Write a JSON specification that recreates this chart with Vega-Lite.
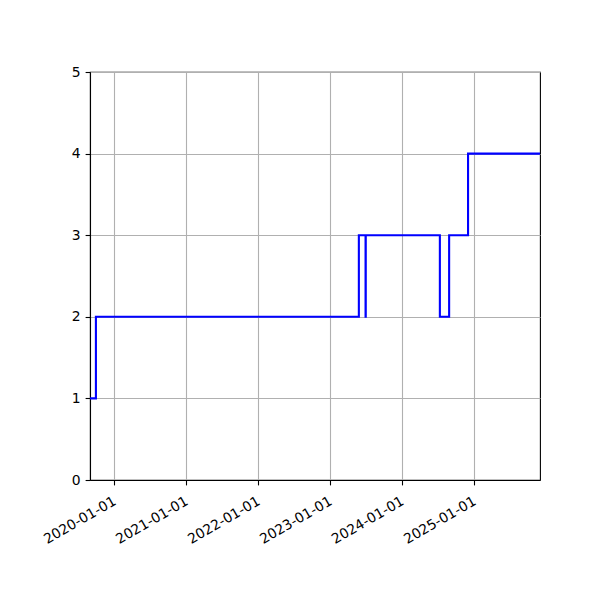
{
  "$schema": "https://vega.github.io/schema/vega-lite/v6.json",
  "autosize": "none",
  "width": 450,
  "height": 408,
  "padding": {"left": 90, "top": 72, "right": 60, "bottom": 120},
  "background": "white",
  "config": {
    "view": {"stroke": "black", "strokeWidth": 1.1},
    "axis": {
      "labelFont": "DejaVu Sans",
      "labelFontSize": 13.9,
      "labelColor": "black",
      "domainColor": "black",
      "domainWidth": 1.1,
      "tickColor": "black",
      "tickWidth": 1.1,
      "tickSize": 4.9,
      "labelPadding": 4.9,
      "gridColor": "#b0b0b0",
      "gridWidth": 1.1,
      "gridOpacity": 1,
      "title": null
    }
  },
  "data": {
    "values": [
      {"date": "2019-09-01", "value": 1},
      {"date": "2019-10-01", "value": 2},
      {"date": "2023-05-27", "value": 3},
      {"date": "2023-06-30", "value": 2},
      {"date": "2023-07-01", "value": 3},
      {"date": "2024-07-11", "value": 2},
      {"date": "2024-08-27", "value": 3},
      {"date": "2024-12-01", "value": 4},
      {"date": "2025-12-01", "value": 4}
    ]
  },
  "mark": {"type": "line", "interpolate": "step-after", "color": "#0000ff", "strokeWidth": 2.1, "clip": true},
  "encoding": {
    "x": {
      "field": "date",
      "type": "temporal",
      "scale": {
        "type": "utc",
        "domain": [
          {"year": 2019, "month": 9, "date": 1, "utc": true},
          {"year": 2025, "month": 12, "date": 1, "utc": true}
        ]
      },
      "axis": {
        "values": [
          {"year": 2020, "month": 1, "date": 1, "utc": true},
          {"year": 2021, "month": 1, "date": 1, "utc": true},
          {"year": 2022, "month": 1, "date": 1, "utc": true},
          {"year": 2023, "month": 1, "date": 1, "utc": true},
          {"year": 2024, "month": 1, "date": 1, "utc": true},
          {"year": 2025, "month": 1, "date": 1, "utc": true}
        ],
        "format": "%Y-%m-%d",
        "labelAngle": -30,
        "labelAlign": "right",
        "labelBaseline": "top",
        "labelPadding": 9,
        "labelOffset": -3,
        "labelFlush": false,
        "labelOverlap": false,
        "grid": true
      }
    },
    "y": {
      "field": "value",
      "type": "quantitative",
      "scale": {"domain": [0, 5], "nice": false, "zero": false},
      "axis": {"values": [0, 1, 2, 3, 4, 5], "grid": true}
    }
  }
}
